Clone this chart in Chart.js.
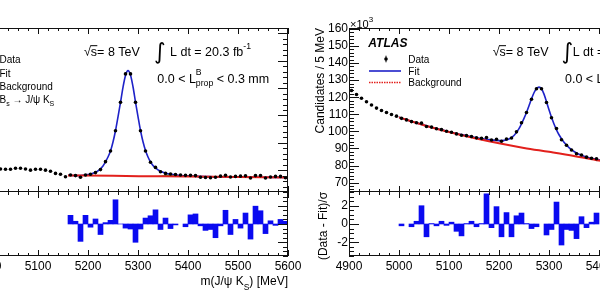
<!DOCTYPE html>
<html>
<head>
<meta charset="utf-8">
<script src="https://cdn.jsdelivr.net/npm/chart.js@4.4.1/dist/chart.umd.min.js"></script>
<style>
html, body { margin:0; padding:0; width:600px; height:300px; overflow:hidden; background:#fff; }
body { position:relative; }
canvas { position:absolute; top:0; }
</style>
</head>
<body>
<canvas id="leftMain" width="452" height="300" style="left:-150px;width:452px;height:300px"></canvas>
<canvas id="leftResid" width="452" height="300" style="left:-150px;width:452px;height:300px"></canvas>
<canvas id="rightMain" width="452" height="300" style="left:261px;width:452px;height:300px"></canvas>
<canvas id="rightResid" width="452" height="300" style="left:261px;width:452px;height:300px"></canvas>
<script>
// ---------------- DATA ----------------
const xTickLabels = [4900, 5000, 5100, 5200, 5300, 5400, 5500, 5600];
const rightYTickLabels = [70, 80, 90, 100, 110, 120, 130, 140, 150, 160];
const leftYTickLabels = [10, 20, 30, 40, 50, 60];
const residYTickLabels = [-2, 0, 2];

// Left panel (0.0 < L_prop < 0.3 mm, B_d region)
const leftDataMass = [5025,5035,5045,5055,5065,5075,5085,5095,5105,5115,5125,5135,5145,5155,
  5165,5175,5185,5195,5205,5215,5225,5235,5245,5255,5265,5275,5285,5295,5305,5315,5325,5335,5345,
  5355,5365,5375,5385,5395,5405,5415,5425,5435,5445,5455,5465,5475,5485,5495,5505,5515,5525,5535,5545,
  5555,5565,5575,5585,5595];
const leftDataCounts = [10.4,10.3,10.3,10.7,10.7,10.4,10.0,10.3,10.3,10.0,9.6,8.8,8.5,7.6,
  8.2,8.0,7.4,8.2,8.5,9.1,10.2,13.1,17.0,24.4,34.8,45.2,45.2,34.8,24.4,17.0,12.9,11.0,9.4,
  8.8,8.6,8.4,8.2,8.1,8.1,8.0,7.4,7.3,7.2,7.4,7.8,8.1,7.5,7.7,7.8,7.9,7.1,8.0,8.0,
  7.1,7.5,7.7,7.7,7.2];
const leftFitMass = [5160,5170,5180,5190,5200,5210,5220,5230,5240,5245,5250,5255,5260,5265,5270,
  5275,5280,5285,5290,5295,5300,5305,5310,5315,5320,5325,5330,5335,5340,5345,5350,5360,5370,5380,5390,
  5400,5420,5450,5500,5550,5600];
const leftFitValues = [8.15,8.05,8.0,8.1,8.35,8.85,9.7,11.5,14.8,17.0,20.3,24.4,29.5,34.8,40.3,
  44.6,46.4,44.8,40.5,34.9,29.6,24.5,20.4,17.2,14.8,13.0,11.7,10.8,10.1,9.6,9.2,8.7,8.4,8.15,7.95,
  7.85,7.7,7.6,7.5,7.4,7.3];
const leftBkgMass = [5160, 5250, 5350, 5450, 5600];
const leftBkgValues = [8.05, 7.9, 7.72, 7.55, 7.3];
const leftBsMass = [5340, 5350, 5358, 5366, 5374, 5382, 5392];
const leftBsValues = [7.74, 8.02, 8.31, 8.39, 8.18, 7.87, 7.65];
const leftResidMass = [5165,5175,5185,5195,5205,5215,5225,5235,5245,5255,5265,5275,5285,5295,5305,
  5315,5325,5335,5345,5355,5365,5375,5385,5395,5405,5415,5425,5435,5445,5455,5465,5475,5485,5495,
  5505,5515,5525,5535,5545,5555,5565,5575,5585,5595];
const leftResidValues = [0.95,0.3,-1.9,0.95,-0.35,0.55,-1.15,0.15,0.4,2.65,0.0,-0.45,-0.55,-2.0,-0.55,
  0.65,0.9,1.55,-0.6,0.65,-0.5,-0.1,null,-0.3,1.0,1.1,-0.2,-0.7,-0.6,-1.5,-0.2,1.5,-1.15,0.5,
  -0.45,1.2,-1.65,1.95,1.45,-1.05,0.35,-0.15,0.5,0.3];

// Right panel (integrated sample)
const rightDataMass = [4905,4915,4925,4935,4945,4955,4965,4975,4985,4995,
  5005,5015,5025,5035,5045,5055,5065,5075,5085,5095,
  5105,5115,5125,5135,5145,5155,5165,5175,5185,5195,
  5205,5215,5225,5235,5245,5255,5265,5275,5285,5295,
  5305,5315,5325,5335,5345,5355,5365,5375,5385,5395];
const rightDataCounts = [123.9,121.6,119.4,117.3,115.4,113.6,112.2,111.0,109.9,108.9,
  107.6,106.7,105.7,105.0,104.8,102.8,102.5,101.5,101.0,100.1,
  99.5,98.5,97.7,97.5,97.0,96.2,95.9,96.4,94.9,95.4,
  94.2,95.5,96.1,99.7,105.0,111.0,118.8,124.9,124.9,116.9,
  108.0,101.7,95.1,91.9,89.1,86.9,86.2,84.9,84.3,84.0];
const rightFitMass = [5000,5025,5050,5075,5100,5125,5150,5175,5200,5210,5220,5230,5240,5250,5255,
  5260,5265,5270,5275,5280,5285,5290,5295,5300,5305,5310,5315,5320,5330,5340,5350,5360,5370,5380,5390,
  5400,5420,5450];
const rightFitValues = [108.2,105.8,103.7,101.6,99.8,98.1,96.6,95.4,94.6,94.7,95.5,97.6,101.6,107.6,111.0,
  115.0,119.0,122.6,125.0,125.9,124.9,121.8,117.3,112.6,108.2,104.3,100.9,98.0,93.6,90.5,88.2,86.6,85.4,84.6,83.9,
  83.3,82.2,80.8];
const rightBkgMass = [5000,5050,5100,5150,5200,5250,5300,5350,5400,5450];
const rightBkgValues = [108.2,103.6,99.6,96.1,93.0,90.3,88.0,85.6,82.9,80.5];
const rightResidMass = [5005,5015,5025,5035,5045,5055,5065,5075,5085,5095,
  5105,5115,5125,5135,5145,5155,5165,5175,5185,5195,
  5205,5215,5225,5235,5245,5255,5265,5275,5285,5295,
  5305,5315,5325,5335,5345,5355,5365,5375,5385,5395];
const rightResidValues = [-0.2,null,-0.3,0.3,2.0,-1.4,0.05,-0.2,0.3,-0.15,
  0.2,-0.8,-1.3,0.05,0.3,-0.3,0.05,3.3,-0.4,1.9,
  -1.4,1.25,-1.4,0.9,1.2,0.05,-0.5,-0.3,null,-1.2,
  -0.6,2.4,-2.3,-0.6,-0.7,-1.6,0.8,-0.4,0.2,1.2];

// ---------------- STYLE ----------------
const FONT = '"Liberation Sans", Arial, Helvetica, sans-serif';
const BLUE = '#1e22c8', RED = '#e2201c', GREEN = '#3ca02a', BARBLUE = '#0a0af0';
Chart.defaults.font.family = FONT;
Chart.defaults.color = '#000';

function pts(xs, ys) { return xs.map((x, i) => ({ x: x, y: ys[i] })); }
function setFont(ctx, size, style) { ctx.font = (style ? style + ' ' : '') + size + 'px ' + FONT; }
function richWidth(ctx, parts) {
  let w = 0;
  for (const p of parts) { setFont(ctx, p[1], p[3]); if (p[4] !== false) w += ctx.measureText(p[0]).width; }
  return w;
}
function drawRich(ctx, x, cy, parts) {
  for (const p of parts) {
    const t = p[0], size = p[1], dy = p[2] || 0, style = p[3] || '';
    setFont(ctx, size, style);
    ctx.fillText(t, x, cy + dy + 0.358 * size);
    if (p[4] !== false) x += ctx.measureText(t).width;
  }
  return x;
}
function drawSqrtS(ctx, x, cy, size) {
  setFont(ctx, size);
  const base = cy + 0.358 * size;
  ctx.fillText('\u221A', x, base);
  const m = ctx.measureText('\u221A');
  const w1 = m.width;
  const topY = base - m.actualBoundingBoxAscent;
  const ws = ctx.measureText('s').width;
  ctx.fillText('s', x + w1, base);
  ctx.fillRect(x + w1 - 0.6, topY, ws + 0.8, 1);
  return x + w1 + ws;
}
function drawIntegral(ctx, cx, top, bottom) {
  let s = 20;
  ctx.font = s + 'px "DejaVu Sans"';
  let m = ctx.measureText('\u222B');
  const h = m.actualBoundingBoxAscent + m.actualBoundingBoxDescent;
  s = s * (bottom - top) / h;
  ctx.font = s + 'px "DejaVu Sans"';
  m = ctx.measureText('\u222B');
  const x = cx - (m.actualBoundingBoxRight - m.actualBoundingBoxLeft) / 2;
  ctx.fillText('\u222B', x, top + m.actualBoundingBoxAscent);
}
function vText(ctx, parts, cx, yPos, align) {
  ctx.save();
  ctx.translate(cx, yPos);
  ctx.rotate(-Math.PI / 2);
  const w = richWidth(ctx, parts);
  const x0 = align === 'end' ? -w : -w / 2;
  drawRich(ctx, x0, 0, parts);
  ctx.restore();
}
function isMult(v, step) { const r = v / step; return Math.abs(r - Math.round(r)) < 1e-6; }

function framePlugin(o) {
  return {
    id: 'rootframe',
    afterDatasetsDraw(chart) {
      const ctx = chart.ctx, a = chart.chartArea, xs = chart.scales.x, ys = chart.scales.y;
      const L = Math.round(a.left), R = Math.round(a.right), T = Math.round(a.top), B = Math.round(a.bottom);
      ctx.save();
      ctx.strokeStyle = '#111';
      ctx.lineWidth = 1;
      ctx.beginPath();
      if (o.top) { ctx.moveTo(L, T + 0.5); ctx.lineTo(R, T + 0.5); }
      ctx.moveTo(L, B - 0.5); ctx.lineTo(R, B - 0.5);
      ctx.moveTo(L + 0.5, T); ctx.lineTo(L + 0.5, B);
      ctx.moveTo(R - 0.5, T); ctx.lineTo(R - 0.5, B);
      for (let i = 0; ; i++) {
        const v = xs.min + i * o.xMinor;
        if (v > xs.max + 1e-6) break;
        const px = Math.round(xs.getPixelForValue(v)) + 0.5;
        const len = isMult(v, o.xMajor) ? 6 : 3;
        ctx.moveTo(px, T); ctx.lineTo(px, T + len);
        ctx.moveTo(px, B); ctx.lineTo(px, B - len);
      }
      const start = Math.ceil(ys.min / o.yMinor - 1e-6) * o.yMinor;
      for (let i = 0; ; i++) {
        const v = start + i * o.yMinor;
        if (v > ys.max + 1e-6) break;
        const py = Math.round(ys.getPixelForValue(v)) + 0.5;
        const len = isMult(v, o.yMajor) ? 10 : 5;
        ctx.moveTo(L, py); ctx.lineTo(L + len, py);
        ctx.moveTo(R, py); ctx.lineTo(R - len, py);
      }
      ctx.stroke();
      ctx.restore();
    }
  };
}
function textPlugin(fn) {
  return {
    id: 'roottext',
    afterDraw(chart) {
      const ctx = chart.ctx;
      ctx.save();
      ctx.fillStyle = '#000';
      ctx.textBaseline = 'alphabetic';
      ctx.textAlign = 'left';
      fn(ctx, chart.chartArea);
      ctx.restore();
    }
  };
}

function yAxis(min, max, ticks) {
  return {
    type: 'linear', min: min, max: max,
    grid: { display: false, drawTicks: false, tickLength: 0 }, border: { display: false },
    ticks: { padding: 1, font: { size: 12 }, color: '#000', autoSkip: false, callback: v => String(v) },
    afterBuildTicks: s => { s.ticks = ticks.map(v => ({ value: v })); },
    afterFit: s => { s.width = 88; s.paddingTop = 0; s.paddingBottom = 0; }
  };
}

function makeMain(id, d, frameOpts, drawTexts) {
  const datasets = [
    { label: 'Data', data: pts(d.dataMass, d.dataCounts), showLine: false, pointRadius: 1.8,
      pointBackgroundColor: '#000', pointBorderColor: '#000', pointBorderWidth: 0, order: 0 },
    { label: 'Background', data: pts(d.bkgMass, d.bkgValues), borderColor: RED, borderWidth: 2,
      pointRadius: 0, cubicInterpolationMode: 'monotone', fill: false, order: 1 },
    { label: 'Fit', data: pts(d.fitMass, d.fitValues), borderColor: BLUE, borderWidth: 1.6,
      pointRadius: 0, cubicInterpolationMode: 'monotone', fill: false, order: 2 }
  ];
  if (d.bsMass) {
    datasets.push({ label: 'Bs', data: pts(d.bsMass, d.bsValues), borderColor: GREEN, borderWidth: 0.5,
      backgroundColor: GREEN, pointRadius: 0, cubicInterpolationMode: 'monotone', fill: 1, order: 3 });
  }
  return new Chart(document.getElementById(id), {
    type: 'line',
    data: { datasets: datasets },
    options: {
      responsive: false, animation: false, events: [],
      layout: { padding: { left: 0, right: 14, top: 28, bottom: 108 } },
      plugins: { legend: { display: false }, tooltip: { enabled: false } },
      scales: {
        x: { type: 'linear', min: 4900, max: 5600, display: false },
        y: yAxis(d.yMin, d.yMax, d.yTicks)
      }
    },
    plugins: [framePlugin(frameOpts), textPlugin(drawTexts)]
  });
}

function makeResid(id, mass, vals) {
  return new Chart(document.getElementById(id), {
    type: 'bar',
    data: { datasets: [{ data: pts(mass, vals), backgroundColor: BARBLUE, borderWidth: 0,
      barPercentage: 1, categoryPercentage: 1 }] },
    options: {
      responsive: false, animation: false, events: [],
      layout: { padding: { left: 0, right: 14, top: 192, bottom: 0 } },
      plugins: { legend: { display: false }, tooltip: { enabled: false } },
      scales: {
        x: {
          type: 'linear', min: 4900, max: 5600, offset: false,
          grid: { display: false, drawTicks: false, tickLength: 0 }, border: { display: false },
          ticks: { padding: 3, font: { size: 12 }, color: '#000', autoSkip: false, maxRotation: 0, callback: v => String(v) },
          afterBuildTicks: s => { s.ticks = xTickLabels.map(v => ({ value: v })); },
          afterFit: s => { s.height = 44; s.paddingLeft = 0; s.paddingRight = 0; }
        },
        y: yAxis(-3.5, 3.5, residYTickLabels)
      }
    },
    plugins: [framePlugin({ top: false, xMajor: 100, xMinor: 20, yMajor: 2, yMinor: 0.5 }),
      textPlugin((ctx, a) => {
        const parts = [['m(J/\u03C8 K', 12], ['S', 8.5, 6], [') [MeV]', 12]];
        const w = richWidth(ctx, parts);
        drawRich(ctx, a.right - w, 281, parts);
        vText(ctx, [['(Data - Fit)/\u03C3', 12]], a.left - 26, 226, 'center');
      })]
  });
}

function drawAnnot(ctx, a, o) {
  const L = a.left;
  let x = drawSqrtS(ctx, L + o.sqrtX, 51.7, 12.5);
  drawRich(ctx, x, 51.7, [['= 8 TeV', 12.5]]);
  drawIntegral(ctx, L + o.intC, 41.5, 65);
  drawRich(ctx, L + o.lText, 51.7, [['L dt = 20.3 fb', 12.5], ['-1', 8.7, -5.5]]);
  drawRich(ctx, L + o.line2, 78.3, [['0.0 < L', 12.5], ['B', 8.7, -6.6, '', false], ['prop', 8.7, 5], [' < 0.3 mm', 12.5]]);
}

// ---------------- LEFT PANEL ----------------
makeMain('leftMain', {
  dataMass: leftDataMass, dataCounts: leftDataCounts,
  fitMass: leftFitMass, fitValues: leftFitValues,
  bkgMass: leftBkgMass, bkgValues: leftBkgValues,
  bsMass: leftBsMass, bsValues: leftBsValues,
  yMin: 2, yMax: 62, yTicks: leftYTickLabels
}, { top: true, xMajor: 100, xMinor: 20, yMajor: 10, yMinor: 2 }, (ctx, a) => {
  const L = a.left;
  const ys = [59.5, 73, 86.3, 99.8];
  ctx.beginPath(); ctx.arc(L + 37, ys[0], 1.8, 0, Math.PI * 2); ctx.fill();
  ctx.fillRect(L + 36.5, ys[0] - 3.3, 1, 6.6);
  ctx.strokeStyle = BLUE; ctx.lineWidth = 1.6; ctx.beginPath(); ctx.moveTo(L + 20, ys[1]); ctx.lineTo(L + 52, ys[1]); ctx.stroke();
  ctx.strokeStyle = RED; ctx.setLineDash([1.5, 1]); ctx.beginPath(); ctx.moveTo(L + 20, ys[2]); ctx.lineTo(L + 52, ys[2]); ctx.stroke();
  ctx.setLineDash([]);
  ctx.fillStyle = GREEN; ctx.fillRect(L + 20, ys[3] - 4, 32, 8);
  ctx.fillStyle = '#000';
  const tx = L + 61.5;
  drawRich(ctx, tx, ys[0], [['Data', 10]]);
  drawRich(ctx, tx, ys[1], [['Fit', 10]]);
  drawRich(ctx, tx, ys[2], [['Background', 10]]);
  drawRich(ctx, tx, ys[3], [['B', 10], ['s', 7, 3.5], [' \u2192 J/\u03C8 K', 10], ['S', 7, 3.5]]);
  drawAnnot(ctx, a, { sqrtX: 146, intC: 222, lText: 232, line2: 219.3 });
  vText(ctx, [['Candidates / 5 MeV', 12]], L - 29, 28, 'end');
});
makeResid('leftResid', leftResidMass, leftResidValues);

// ---------------- RIGHT PANEL ----------------
makeMain('rightMain', {
  dataMass: rightDataMass, dataCounts: rightDataCounts,
  fitMass: rightFitMass, fitValues: rightFitValues,
  bkgMass: rightBkgMass, bkgValues: rightBkgValues,
  yMin: 64.5, yMax: 160.5, yTicks: rightYTickLabels
}, { top: true, xMajor: 100, xMinor: 20, yMajor: 10, yMinor: 2 }, (ctx, a) => {
  const L = a.left;
  drawRich(ctx, L + 1, 23.7, [['\u00D710', 11], ['3', 8, -5]]);
  drawRich(ctx, L + 19.3, 42.3, [['ATLAS', 12, 0, 'italic bold']]);
  const ys = [59, 71, 82.5];
  ctx.beginPath(); ctx.arc(L + 37, ys[0], 1.8, 0, Math.PI * 2); ctx.fill();
  ctx.fillRect(L + 36.5, ys[0] - 3.3, 1, 6.6);
  ctx.strokeStyle = BLUE; ctx.lineWidth = 1.6; ctx.beginPath(); ctx.moveTo(L + 20, ys[1]); ctx.lineTo(L + 52, ys[1]); ctx.stroke();
  ctx.strokeStyle = RED; ctx.lineWidth = 1.5; ctx.setLineDash([1.5, 1]); ctx.beginPath(); ctx.moveTo(L + 20, ys[2]); ctx.lineTo(L + 52, ys[2]); ctx.stroke();
  ctx.setLineDash([]);
  const tx = L + 59.3;
  drawRich(ctx, tx, ys[0], [['Data', 10]]);
  drawRich(ctx, tx, ys[1], [['Fit', 10]]);
  drawRich(ctx, tx, ys[2], [['Background', 10]]);
  drawAnnot(ctx, a, { sqrtX: 143.7, intC: 218.5, lText: 223.7, line2: 216 });
  vText(ctx, [['Candidates / 5 MeV', 12]], L - 29, 28, 'end');
});
makeResid('rightResid', rightResidMass, rightResidValues);
</script>
</body>
</html>
